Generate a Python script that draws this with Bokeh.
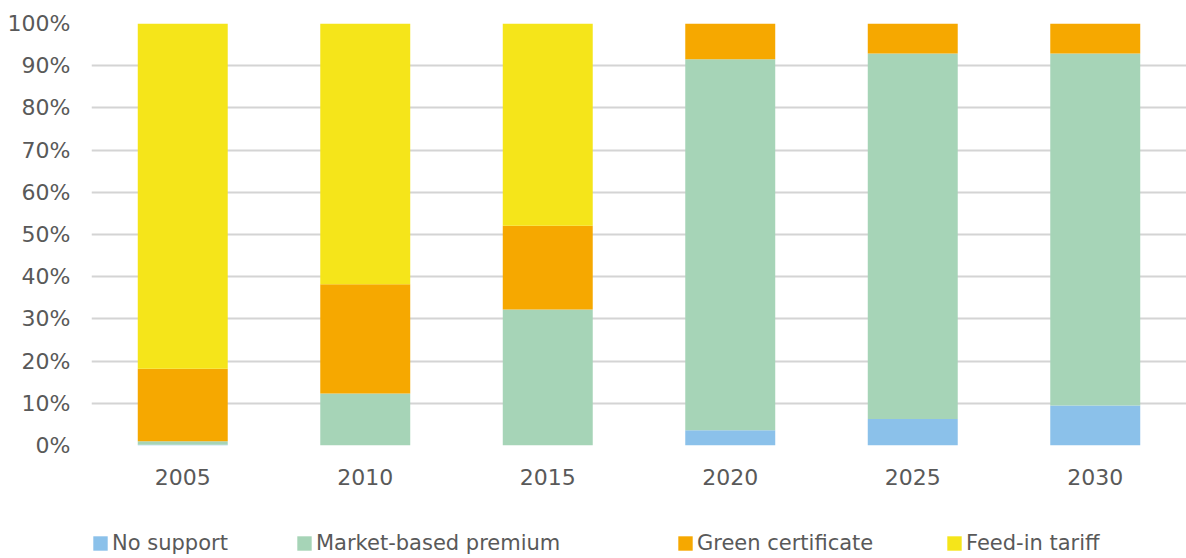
from bokeh.plotting import figure
from bokeh.layouts import column
from bokeh.models import Range1d, FixedTicker, Legend, LegendItem, ColumnDataSource, PrintfTickFormatter
from bokeh.embed import file_html
from bokeh.resources import INLINE

years = ["2005", "2010", "2015", "2020", "2025", "2030"]
no_support = [0.2, 0.0, 0.0, 3.6, 6.3, 9.5]
market_premium = [0.8, 12.3, 32.2, 87.9, 86.6, 83.4]
green_cert = [17.2, 25.9, 19.9, 8.5, 7.1, 7.1]
feed_in = [81.8, 61.8, 47.9, 0.0, 0.0, 0.0]

series_names = ["No support", "Market-based premium", "Green certificate", "Feed-in tariff"]
series_keys = ["no_support", "market_premium", "green_cert", "feed_in"]
colors = ["#8bc1ea", "#a6d4b7", "#f6a800", "#f5e51a"]
y_ticks = list(range(0, 101, 10))

FONT = "'DejaVu Sans ExtraLight', 'DejaVu Sans'"
TXT = "#595959"

source = ColumnDataSource(dict(
    x=list(range(len(years))),
    no_support=no_support,
    market_premium=market_premium,
    green_cert=green_cert,
    feed_in=feed_in,
))

p = figure(width=1186, height=528, output_backend="svg", toolbar_location=None,
           x_range=Range1d(-0.5, 5.5), y_range=Range1d(0, 100),
           min_border_left=91, min_border_right=0, min_border_top=23, min_border_bottom=83)
p.outline_line_color = None

renderers = p.vbar_stack(series_keys, x="x", width=0.493, color=colors, line_color=None, source=source)

p.xgrid.grid_line_color = None
p.ygrid.grid_line_color = "#d4d4d4"
p.ygrid.grid_line_width = 2
p.ygrid.ticker = FixedTicker(ticks=y_ticks)

p.yaxis.ticker = FixedTicker(ticks=y_ticks)
p.yaxis.formatter = PrintfTickFormatter(format="%d%%")
p.xaxis.ticker = FixedTicker(ticks=list(range(len(years))))
p.xaxis.major_label_overrides = {i: y for i, y in enumerate(years)}

for ax in (p.xaxis[0], p.yaxis[0]):
    ax.axis_line_color = None
    ax.major_tick_line_color = None
    ax.minor_tick_line_color = None
    ax.major_label_text_font = FONT
    ax.major_label_text_font_size = "22px"
    ax.major_label_text_color = TXT
p.yaxis.major_label_standoff = 15
p.xaxis.major_label_standoff = 17

# legend strip (its frame is aligned with the main plot's frame)
lf = figure(width=1186, height=30, output_backend="svg", toolbar_location=None,
            x_range=Range1d(0, 1), y_range=Range1d(0, 1),
            min_border=0, min_border_left=91, min_border_right=0, min_border_top=0, min_border_bottom=0)
lf.axis.visible = False
lf.grid.visible = False
lf.outline_line_color = None

legend_x = [0, 204, 585, 854]
for name, c, lx in zip(series_names, colors, legend_x):
    dummy = lf.vbar(x=[5], top=[0], bottom=[0], width=0.1, color=c, line_color=None)
    lg = Legend(items=[LegendItem(label=name, renderers=[dummy])], location=(lx, 3),
                orientation="horizontal", padding=0, margin=0, border_line_color=None,
                background_fill_alpha=0, glyph_width=18, glyph_height=18, label_height=24,
                label_standoff=3, label_text_font=FONT, label_text_font_size="21px",
                label_text_color=TXT)
    lf.add_layout(lg, "center")

layout = column(p, lf, spacing=0)
open("out.html", "w").write(file_html(layout, INLINE))
